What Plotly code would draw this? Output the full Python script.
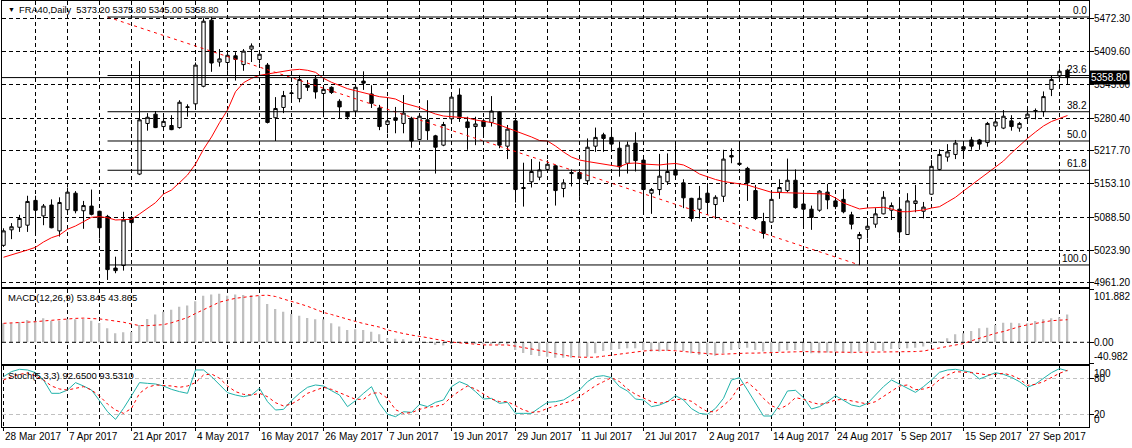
import plotly.graph_objects as go

# ---------------- data ----------------
symbol = "FRA40,Daily"

opens = [5034, 5064, 5069, 5073, 5121, 5091, 5112, 5062, 5103, 5135,
         5101, 5110, 5100, 5090, 4990, 4995, 5088, 5172, 5270, 5288,
         5264, 5266, 5262, 5301, 5308, 5342, 5470, 5389, 5388, 5401,
         5384, 5414, 5394, 5383, 5281, 5301, 5328, 5318, 5344, 5356,
         5328, 5340, 5313, 5292, 5294, 5352, 5327, 5300, 5268, 5281,
         5270, 5280, 5239, 5277, 5246, 5228, 5279, 5325, 5273, 5264,
         5275, 5272, 5292, 5226, 5275, 5146, 5157, 5166, 5181, 5188,
         5144, 5173, 5175, 5159, 5226, 5248, 5243, 5222, 5193, 5232,
         5199, 5135, 5142, 5157, 5180, 5155, 5125, 5104, 5135, 5113,
         5129, 5208, 5193, 5183, 5140, 5080, 5079, 5137, 5140, 5160,
         5114, 5104, 5102, 5137, 5120, 5123, 5093, 5047, 5065, 5075,
         5095, 5102, 5104, 5055, 5115, 5100, 5133, 5181, 5205, 5210,
         5225, 5238, 5238, 5233, 5265, 5261, 5275, 5261, 5281, 5294,
         5293, 5336, 5362, 5373.20]
highs = [5067, 5077, 5093, 5130, 5130, 5114, 5123, 5127, 5146, 5139,
         5120, 5142, 5101, 5093, 5012, 5099, 5091, 5391, 5290, 5294,
         5282, 5286, 5315, 5307, 5388, 5474, 5476, 5414, 5407, 5408,
         5414, 5425, 5411, 5387, 5321, 5333, 5336, 5364, 5354, 5363,
         5340, 5342, 5317, 5292, 5344, 5371, 5344, 5306, 5320, 5302,
         5325, 5283, 5290, 5315, 5248, 5273, 5330, 5338, 5283, 5283,
         5280, 5323, 5294, 5267, 5281, 5194, 5201, 5196, 5199, 5190,
         5162, 5181, 5178, 5241, 5262, 5252, 5257, 5235, 5235, 5253,
         5209, 5145, 5211, 5212, 5228, 5162, 5126, 5149, 5151, 5131,
         5219, 5222, 5233, 5186, 5151, 5097, 5141, 5162, 5202, 5181,
         5141, 5111, 5141, 5153, 5122, 5143, 5099, 5060, 5080, 5106,
         5139, 5117, 5123, 5135, 5151, 5118, 5199, 5220, 5230, 5238,
         5232, 5244, 5240, 5273, 5282, 5296, 5286, 5273, 5299, 5299,
         5332, 5362, 5377, 5375.80]
lows = [5031, 5046, 5060, 5060, 5058, 5073, 5067, 5051, 5095, 5096,
        5066, 5092, 5047, 4967, 4980, 4985, 5025, 5170, 5256, 5261,
        5256, 5257, 5260, 5283, 5301, 5340, 5370, 5380, 5372, 5353,
        5372, 5389, 5386, 5270, 5236, 5290, 5315, 5311, 5333, 5318,
        5282, 5327, 5280, 5278, 5283, 5335, 5300, 5257, 5251, 5251,
        5251, 5223, 5238, 5238, 5173, 5226, 5275, 5273, 5219, 5228,
        5244, 5264, 5222, 5201, 5117, 5109, 5146, 5160, 5176, 5111,
        5127, 5148, 5128, 5151, 5215, 5215, 5222, 5167, 5173, 5177,
        5095, 5095, 5131, 5151, 5168, 5106, 5080, 5086, 5099, 5085,
        5118, 5193, 5188, 5120, 5083, 5047, 5078, 5124, 5137, 5105,
        5069, 5064, 5099, 5104, 5104, 5096, 5065, 4996, 5047, 5068,
        5094, 5083, 5047, 5054, 5098, 5086, 5132, 5179, 5196, 5201,
        5202, 5219, 5219, 5225, 5261, 5259, 5256, 5254, 5270, 5278,
        5283, 5323, 5360, 5345.00]
closes = [5062, 5070, 5086, 5119, 5102, 5110, 5068, 5117, 5137, 5101,
          5111, 5094, 5068, 4987, 4985, 5083, 5078, 5277, 5282, 5262,
          5274, 5258, 5311, 5302, 5383, 5468, 5387, 5395, 5402, 5394,
          5410, 5420, 5404, 5272, 5299, 5324, 5329, 5355, 5340, 5331,
          5336, 5330, 5302, 5283, 5340, 5348, 5309, 5264, 5275, 5276,
          5290, 5236, 5284, 5256, 5224, 5268, 5321, 5283, 5262, 5269,
          5264, 5294, 5228, 5259, 5142, 5144, 5177, 5180, 5191, 5140,
          5155, 5175, 5163, 5224, 5243, 5241, 5230, 5186, 5228, 5198,
          5142, 5142, 5168, 5177, 5170, 5126, 5086, 5125, 5117, 5127,
          5201, 5205, 5191, 5155, 5086, 5057, 5123, 5146, 5160, 5107,
          5104, 5088, 5139, 5122, 5109, 5099, 5075, 5055, 5071, 5095,
          5127, 5111, 5060, 5120, 5120, 5108, 5187, 5210, 5215, 5232,
          5220, 5226, 5230, 5270, 5273, 5284, 5264, 5270, 5288, 5295,
          5322, 5355, 5371, 5358.80]

moving_avg = [5010.9, 5015.3, 5019.8, 5025.0, 5030.2, 5040.5, 5048.8, 5054.0, 5065.1, 5071.5,
              5079.8, 5088.3, 5089.5, 5087.5, 5083.1, 5083.1, 5084.4, 5094.7, 5105.7, 5116.6,
              5133.4, 5141.2, 5155.3, 5170.2, 5191.5, 5220.0, 5243.8, 5271.5, 5296.0, 5331.5,
              5348.9, 5357.4, 5363.2, 5365.7, 5368.3, 5371.5, 5373.5, 5374.8, 5372.9, 5369.0,
              5357.4, 5349.7, 5343.1, 5337.3, 5333.4, 5329.5, 5325.1, 5321.8, 5320.2, 5317.3,
              5309.6, 5304.8, 5300.9, 5294.1, 5288.3, 5284.4, 5283.1, 5283.1, 5280.6, 5276.7,
              5274.7, 5271.8, 5267.0, 5261.2, 5255.4, 5250.9, 5243.8, 5237.0, 5236.0, 5226.3,
              5214.7, 5205.0, 5199.2, 5196.3, 5194.0, 5191.5, 5189.6, 5186.3, 5192.5, 5193.4,
              5191.5, 5190.5, 5189.6, 5191.5, 5192.5, 5189.6, 5181.8, 5172.1, 5166.3, 5161.5,
              5157.6, 5155.7, 5154.1, 5150.8, 5146.0, 5141.2, 5136.7, 5136.3, 5135.9, 5135.4,
              5134.8, 5134.8, 5134.8, 5133.4, 5125.7, 5116.0, 5110.2, 5104.4, 5106.3, 5107.7,
              5107.7, 5104.4, 5099.1, 5099.1, 5100.5, 5102.4, 5106.3, 5108.8, 5117.9, 5127.0,
              5139.2, 5150.8, 5162.5, 5174.7, 5185.7, 5197.3, 5212.8, 5227.3, 5240.9, 5253.4,
              5265.1, 5273.8, 5279.6, 5285.4]

macd_hist = [36.9, 36.9, 39.5, 43.4, 42.1, 46.7, 42.1, 42.1, 45.4, 44.7,
             45.4, 42.1, 37.6, 27.2, 17.5, 19.4, 20.0, 33.7, 45.4, 53.8,
             59.6, 63.5, 69.3, 71.3, 79.7, 90.7, 92.7, 94.6, 90.7, 92.7,
             92.0, 92.0, 90.7, 74.5, 64.8, 59.6, 55.1, 51.8, 47.3, 44.7,
             44.7, 36.9, 30.5, 24.0, 25.3, 24.0, 20.7, 15.6, 7.8, 7.0,
             6.0, 3.0, 2.0, 0.5, -5.0, -6.0, -2.0, -1.0, -3.0, -3.0,
             -4.0, -2.0, -5.0, -4.0, -15.0, -21.0, -24.6, -26.6, -27.9, -29.8,
             -29.8, -29.8, -28.5, -27.9, -21.4, -16.8, -14.9, -13.0, -11.7, -11.7,
             -14.9, -18.1, -18.1, -16.8, -14.9, -16.8, -21.4, -24.6, -24.6, -25.9,
             -21.4, -14.9, -11.7, -10.4, -14.9, -18.1, -21.4, -18.1, -15.6, -14.9,
             -18.1, -21.4, -21.4, -20.0, -18.1, -20.0, -21.4, -18.1, -16.8, -14.9,
             -16.8, -13.0, -11.7, -11.7, -10.4, -8.4, -1.9, 2.6, 7.8, 15.6,
             17.5, 22.0, 27.2, 28.5, 33.7, 38.0, 38.2, 36.9, 36.9, 41.5,
             44.7, 46.7, 48.6, 53.845]
macd_signal = [36.9, 37.4, 38.0, 38.9, 40.0, 41.5, 43.0, 44.5, 45.5, 46.5,
               47.0, 46.5, 45.4, 43.5, 41.5, 39.0, 35.5, 32.5, 32.4, 33.0,
               34.3, 38.0, 43.0, 48.0, 56.0, 63.5, 71.0, 78.0, 82.0, 85.5,
               87.5, 89.4, 91.0, 91.5, 89.0, 84.0, 80.0, 75.0, 70.0, 64.0,
               58.0, 54.0, 49.0, 44.0, 40.5, 36.5, 33.0, 29.5, 24.0, 20.0,
               17.0, 14.0, 12.0, 9.0, 6.0, 3.0, 0.5, -1.0, -2.5, -4.0,
               -5.0, -5.2, -5.2, -5.2, -7.5, -10.0, -13.0, -15.5, -18.5, -22.0,
               -25.0, -27.5, -29.0, -29.2, -29.0, -27.0, -25.0, -22.5, -20.0, -18.0,
               -17.0, -15.5, -15.0, -15.5, -16.5, -18.0, -19.5, -21.0, -22.5, -23.3,
               -23.0, -22.0, -21.4, -21.0, -21.0, -20.8, -20.5, -20.0, -19.0, -18.5,
               -18.1, -18.5, -19.0, -19.4, -19.5, -19.5, -19.5, -19.4, -19.4, -19.4,
               -19.4, -19.4, -19.0, -18.5, -18.0, -17.0, -14.5, -11.0, -8.0, -5.5,
               -2.5, 3.0, 8.0, 13.0, 17.5, 21.0, 26.0, 30.5, 34.0, 37.0,
               39.5, 42.0, 43.0, 43.865]

stoch_k = [83.1, 91.4, 95.3, 94.2, 89.7, 77.5, 55.3, 55.3, 60.8, 73.1,
           67.5, 60.8, 43.1, 24.7, 11.9, 30.3, 51.4, 73.1, 71.9, 70.8,
           67.5, 61.9, 58.1, 55.3, 94.2, 94.2, 83.1, 69.2, 56.4, 52.5,
           49.7, 52.5, 63.6, 41.4, 27.5, 28.6, 43.1, 55.3, 65.3, 69.2,
           67.5, 59.7, 52.5, 33.1, 43.1, 55.3, 66.4, 38.6, 20.5, 16.4,
           24.7, 23.6, 36.9, 33.1, 40.3, 44.2, 66.4, 74.7, 69.2, 58.1,
           45.8, 46.9, 38.6, 40.3, 21.9, 21.9, 21.9, 31.4, 40.3, 41.4,
           44.2, 52.5, 60.8, 74.7, 83.1, 84.7, 81.4, 66.4, 59.2, 45.8,
           44.2, 33.1, 35.8, 41.4, 51.4, 44.2, 29.8, 21.9,
           20.3, 30.3, 46.9, 77.5, 81.4, 60.8, 38.6, 17.5, 17.5, 35.8,
           59.2, 60.3, 48.1, 29.2, 33.1, 41.4, 51.4, 44.2, 35.8, 33.1,
           38.6, 52.5, 66.4, 77.5, 70.3, 63.6, 56.9, 66.4, 77.5, 90.3,
           94.2, 95.3, 92.5, 90.3, 79.2, 84.7, 89.7,
           86.9, 81.9, 74.7, 65.3, 70.8, 80.3, 89.7, 96.4, 92.65]
stoch_d = [77.5, 83.0, 86.9, 89.2, 84.2, 77.5, 67.5, 62.5, 60.8, 64.2,
           66.4, 60.8, 50.8, 37.5, 27.5, 21.9, 30.3, 55.3, 65.3, 69.2,
           68.6, 67.5, 65.3, 67.5, 73.1, 85.8, 87.5, 80.3, 67.5, 58.1,
           53.6, 52.5, 55.3, 49.7, 39.7, 34.2, 37.5, 45.3, 55.3, 60.8,
           65.3, 61.9, 56.4, 49.7, 45.3, 45.3, 55.3, 56.4, 46.9, 28.0,
           21.9, 23.1, 28.6, 31.9, 33.6, 36.9, 49.7, 59.2, 67.5, 62.5,
           53.6, 45.8, 41.4, 41.4, 34.7, 27.5, 23.6, 24.7, 30.3, 34.7,
           38.6, 42.5, 49.7, 59.2, 68.0, 74.7, 81.4, 74.7, 62.5, 53.6,
           46.9, 41.4, 38.6, 41.4, 44.7, 45.8, 42.0, 32.5,
           24.7, 24.7, 34.7, 46.9, 68.0, 73.6, 62.5, 46.9, 34.7, 29.2,
           35.8, 48.1, 45.3, 40.3, 36.9, 39.2, 44.2, 45.3, 42.5, 39.7,
           37.5, 41.4, 49.7, 59.2, 67.5, 69.2, 61.4, 62.5, 66.4, 78.1,
           85.8, 91.4, 90.8, 89.7, 88.1, 85.8, 86.9,
           88.6, 85.3, 79.2, 68.6, 70.3, 74.7, 81.9, 88.6, 93.531]

# Fibonacci retracement anchors (bar index, price)
fib_start = (13, 5476.1)
fib_end = (107, 4996.0)
fib_levels = [0.0, 23.6, 38.2, 50.0, 61.8, 100.0]

# date labels (bar index -> label)
date_idx = [0, 8, 16, 24, 32, 40, 48, 56, 64, 72, 80, 88, 96, 104, 112, 120, 128]
date_labels = ["28 Mar 2017", "7 Apr 2017", "21 Apr 2017", "4 May 2017", "16 May 2017",
               "26 May 2017", "7 Jun 2017", "19 Jun 2017", "29 Jun 2017", "11 Jul 2017",
               "21 Jul 2017", "2 Aug 2017", "14 Aug 2017", "24 Aug 2017", "5 Sep 2017",
               "15 Sep 2017", "27 Sep 2017"]
price_ticks = [5472.30, 5409.60, 5345.00, 5280.40, 5217.70, 5153.10, 5088.50, 5023.90, 4961.20]
macd_labels = [101.882, 0.00, -40.982]
stoch_levels = [20, 80]

# ---------------- layout geometry ----------------
W, H = 1132, 448
ML, MR, MT, MB = 2, 43, 1, 21
PW, PH = W - ML - MR, H - MT - MB


def py(px):
    return (H - MB - px) / PH


def pxp(px):
    return (px - ML) / PW


n = len(closes)
idx = list(range(n))
x_lo, x_hi = -0.19, 135.69

FONT = "Tahoma, 'Liberation Sans', Arial, sans-serif"
GRID_DASH = "4px,3px"

fig = go.Figure()

# candles
fig.add_trace(go.Candlestick(
    x=idx, open=opens, high=highs, low=lows, close=closes,
    increasing=dict(line=dict(color="black", width=1), fillcolor="white"),
    decreasing=dict(line=dict(color="black", width=1), fillcolor="black"),
    whiskerwidth=0, xaxis="x", yaxis="y", hoverinfo="skip", showlegend=False))

# moving average
fig.add_trace(go.Scatter(x=idx, y=moving_avg, mode="lines",
                         line=dict(color="#FF0000", width=1),
                         xaxis="x", yaxis="y", showlegend=False, hoverinfo="skip"))

# fibonacci diagonal
fig.add_trace(go.Scatter(x=[fib_start[0], fib_end[0]], y=[fib_start[1], fib_end[1]],
                         mode="lines", line=dict(color="#FF0000", width=1, dash="3px,4px"),
                         xaxis="x", yaxis="y", showlegend=False, hoverinfo="skip"))

fib_hi, fib_lo = fib_start[1], fib_end[1]
fib_prices = [fib_hi - (fib_hi - fib_lo) * lv / 100.0 for lv in fib_levels]
for lv, pr in zip(fib_levels, fib_prices):
    fig.add_trace(go.Scatter(x=[fib_start[0], x_hi], y=[pr, pr], mode="lines",
                             line=dict(color="black", width=1),
                             xaxis="x", yaxis="y", showlegend=False, hoverinfo="skip"))

# MACD
fig.add_trace(go.Bar(x=idx, y=macd_hist, width=0.2, marker=dict(color="#C0C0C0", line=dict(width=0)),
                     xaxis="x2", yaxis="y2", showlegend=False, hoverinfo="skip"))
fig.add_trace(go.Scatter(x=[x_lo, x_hi], y=[0, 0], mode="lines",
                         line=dict(color="black", width=1, dash=GRID_DASH),
                         xaxis="x2", yaxis="y2", showlegend=False, hoverinfo="skip"))
fig.add_trace(go.Scatter(x=idx, y=macd_signal, mode="lines",
                         line=dict(color="#FF0000", width=1, dash="3px,3px"),
                         xaxis="x2", yaxis="y2", showlegend=False, hoverinfo="skip"))

# Stochastic
fig.add_trace(go.Scatter(x=idx, y=stoch_k, mode="lines",
                         line=dict(color="#20B2AA", width=1),
                         xaxis="x3", yaxis="y3", showlegend=False, hoverinfo="skip"))
fig.add_trace(go.Scatter(x=idx, y=stoch_d, mode="lines",
                         line=dict(color="#FF0000", width=1, dash="3px,3px"),
                         xaxis="x3", yaxis="y3", showlegend=False, hoverinfo="skip"))

major_grid = date_idx[1:]
minor_grid = list(range(4, n, 8))


def xaxis_cfg(anchor, show_ticks=False):
    d = dict(anchor=anchor, domain=[0, 1], range=[x_lo, x_hi],
             showline=True, mirror=True, linecolor="black", linewidth=1,
             tickmode="array", tickvals=major_grid if not show_ticks else date_idx,
             showticklabels=False, ticks="outside" if show_ticks else "",
             ticklen=3, tickcolor="black",
             showgrid=True, gridcolor="black", gridwidth=1, griddash=GRID_DASH,
             minor=dict(tickmode="array", tickvals=minor_grid, showgrid=True,
                        gridcolor="black", gridwidth=1, griddash=GRID_DASH, ticks=""),
             zeroline=False, fixedrange=True)
    if anchor != "y":
        d["matches"] = "x"
    return d


price_rng = [4954.3, 5507.1]
macd_rng = [-41.2, 103.6]
stoch_rng = [-0.8, 100.8]

layout = dict(
    width=W, height=H, margin=dict(l=ML, r=MR, t=MT, b=MB),
    paper_bgcolor="white", plot_bgcolor="white", showlegend=False,
    font=dict(family=FONT, size=10, color="black"),
    boxgap=0.4,
    xaxis=xaxis_cfg("y"),
    xaxis2=xaxis_cfg("y2"),
    xaxis3=xaxis_cfg("y3", show_ticks=True),
    yaxis=dict(domain=[py(286.5), 1], range=price_rng, side="right",
               showline=True, mirror=True, linecolor="black", linewidth=1,
               tickmode="array", tickvals=price_ticks, showticklabels=False,
               ticks="outside", ticklen=4, tickcolor="black",
               showgrid=True, gridcolor="black", gridwidth=1, griddash=GRID_DASH,
               zeroline=False, fixedrange=True),
    yaxis2=dict(domain=[py(363.5), py(289)], range=macd_rng, side="right", anchor="x2",
                showline=True, mirror=True, linecolor="black", linewidth=1,
                tickmode="array", tickvals=macd_labels, showticklabels=False,
                ticks="outside", ticklen=4, tickcolor="black",
                showgrid=False, zeroline=False, fixedrange=True),
    yaxis3=dict(domain=[0, py(366)], range=stoch_rng, side="right", anchor="x3",
                showline=True, mirror=True, linecolor="black", linewidth=1,
                tickmode="array", tickvals=stoch_levels, showticklabels=False,
                ticks="outside", ticklen=4, tickcolor="black",
                showgrid=True, gridcolor="#C0C0C0", gridwidth=1, griddash=GRID_DASH,
                zeroline=False, fixedrange=True),
)
layout["xaxis"]["rangeslider"] = dict(visible=False)
fig.update_layout(**layout)

ann = []
lab_x = pxp(1092)
# price axis labels
for v in price_ticks:
    ann.append(dict(xref="paper", yref="y", x=lab_x, y=v, text=f"{v:.2f}",
                    xanchor="left", yanchor="middle", showarrow=False))
# bid line + label
last_close = closes[-1]
fig.add_shape(type="line", xref="paper", yref="y", x0=0, x1=1, y0=last_close, y1=last_close,
              line=dict(color="black", width=1))
ann.append(dict(xref="paper", yref="y", x=pxp(1089), y=last_close, text=f"{last_close:.2f}",
                xanchor="left", yanchor="middle", showarrow=False, bgcolor="black",
                font=dict(color="white", size=10, family=FONT), borderpad=1))
# fib labels
for lv, pr in zip(fib_levels, fib_prices):
    ann.append(dict(xref="paper", yref="y", x=pxp(1088), y=pr, text=f"{lv:.1f}",
                    xanchor="right", yanchor="bottom", showarrow=False, borderpad=0))
# MACD labels
ann.append(dict(xref="paper", yref="y2 domain", x=lab_x, y=1, text=f"{macd_labels[0]:.3f}",
                xanchor="left", yanchor="top", showarrow=False))
ann.append(dict(xref="paper", yref="y2", x=lab_x, y=macd_labels[1], text=f"{macd_labels[1]:.2f}",
                xanchor="left", yanchor="middle", showarrow=False))
ann.append(dict(xref="paper", yref="y2 domain", x=lab_x, y=0, text=f"{macd_labels[2]:.3f}",
                xanchor="left", yanchor="bottom", showarrow=False))
# Stoch labels
ann.append(dict(xref="paper", yref="y3 domain", x=lab_x, y=1, text="100",
                xanchor="left", yanchor="top", showarrow=False))
for lv in sorted(stoch_levels, reverse=True):
    ann.append(dict(xref="paper", yref="y3", x=lab_x, y=lv, text=str(lv),
                    xanchor="left", yanchor="middle", showarrow=False))
ann.append(dict(xref="paper", yref="y3 domain", x=lab_x, y=0, text="0",
                xanchor="left", yanchor="bottom", showarrow=False))
# date labels
for i, t in zip(date_idx, date_labels):
    ann.append(dict(xref="x3", yref="paper", x=i - 0.1, y=py(437), text=t,
                    xanchor="left", yanchor="middle", showarrow=False))
# titles
ann.append(dict(xref="paper", yref="paper", x=pxp(6), y=py(10), text="\u25BC",
                xanchor="left", yanchor="middle", showarrow=False, font=dict(size=7)))
title_txt = (f"{symbol}\u00a0\u00a0{opens[-1]:.2f} {highs[-1]:.2f} {lows[-1]:.2f} {closes[-1]:.2f}")
ann.append(dict(xref="paper", yref="paper", x=pxp(17), y=py(10), text=title_txt,
                xanchor="left", yanchor="middle", showarrow=False, font=dict(size=9.3)))
ann.append(dict(xref="paper", yref="paper", x=pxp(6), y=py(297),
                text=f"MACD(12,26,9) {macd_hist[-1]:.3f} {macd_signal[-1]:.3f}",
                xanchor="left", yanchor="middle", showarrow=False, font=dict(size=9.5)))
ann.append(dict(xref="paper", yref="paper", x=pxp(6), y=py(375),
                text=f"Stoch(5,3,3) {stoch_k[-1]:.4f} {stoch_d[-1]:.4f}",
                xanchor="left", yanchor="middle", showarrow=False, font=dict(size=9.5)))

fig.update_layout(annotations=ann)
fig.write_html("out.html")
